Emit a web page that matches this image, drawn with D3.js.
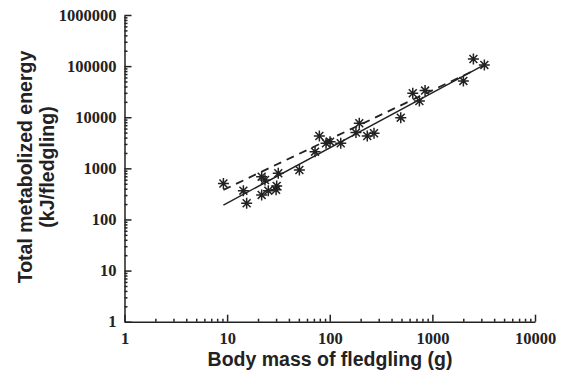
<!DOCTYPE html>
<html>
<head>
<meta charset="utf-8">
<script src="https://cdn.jsdelivr.net/npm/d3@7"></script>
<style>
  body { margin: 0; background: #fff; }
  .tick text { font-family: "Liberation Serif", "Times New Roman", serif; font-weight: bold; font-size: 16.5px; fill: #222; }
  .axisTitle { font-family: "Liberation Sans", Arial, sans-serif; font-weight: bold; font-size: 19.5px; fill: #222; }
</style>
</head>
<body>
<div id="chart"></div>
<script>
// body mass of fledgling (g)
const massValues = [9.2, 14.4, 15.5, 21.7, 23.4, 31.5, 21.7, 25.2, 30.4, 30.0, 50.6, 71.9, 79.2, 92,
                    100.7, 128, 180, 194, 232, 270, 492, 644, 747, 849, 2005, 2510, 3210];
// total metabolized energy (kJ/fledgling)
const energyValues = [506, 366, 208, 688, 593, 802, 302, 366, 453, 380, 930, 2122, 4300, 3100,
                      3330, 3100, 5000, 7640, 4300, 4860, 9820, 29500, 20800, 33200, 51300, 138000, 105700];

// fitted lines: log10(E) = a + b * log10(M), drawn over the mass range
const fitNames = ["solid", "dashed"];
const fitIntercepts = [1.24, 1.656];
const fitSlopes = [1.08, 0.957];
const fitMassRange = [[9.2, 3200], [9.2, 2650]];

const xTickValues = [1, 10, 100, 1000, 10000];
const yTickValues = [1, 10, 100, 1000, 10000, 100000, 1000000];

const WIDTH = 572;
const HEIGHT = 385;
const PLOT = { left: 124.5, right: 535, top: 15, bottom: 321.7 };

const svg = d3.select("#chart").append("svg")
              .attr("width", WIDTH)
              .attr("height", HEIGHT);

const x = d3.scaleLog()
            .domain([1, 10000])
            .range([PLOT.left, PLOT.right]);

const y = d3.scaleLog()
            .domain([1, 1000000])
            .range([PLOT.bottom, PLOT.top]);

// minor ticks 2..9 in each decade
function minorTicks(domain)
{
    let out = [];
    for (let d = domain[0]; d < domain[1]; d *= 10) {
        for (let k = 2; k <= 9; k++) out.push(d * k);
    }
    return out;
}

svg.append("g")
   .attr("transform", `translate(0, ${PLOT.bottom})`)
   .call(d3.axisBottom(x).tickValues(minorTicks(x.domain())).tickSizeInner(-3).tickSizeOuter(0).tickFormat(""))
   .call(g => g.select(".domain").remove());

svg.append("g")
   .attr("transform", `translate(${PLOT.left}, 0)`)
   .call(d3.axisLeft(y).tickValues(minorTicks(y.domain())).tickSizeInner(-3).tickSizeOuter(0).tickFormat(""))
   .call(g => g.select(".domain").remove());

const xAxis = svg.append("g")
                 .attr("transform", `translate(0, ${PLOT.bottom})`)
                 .call(d3.axisBottom(x).tickValues(xTickValues).tickSizeInner(-7).tickSizeOuter(0)
                         .tickPadding(11).tickFormat(d3.format("d")));

const yAxis = svg.append("g")
                 .attr("transform", `translate(${PLOT.left}, 0)`)
                 .call(d3.axisLeft(y).tickValues(yTickValues).tickSizeInner(-7).tickSizeOuter(0)
                         .tickPadding(8).tickFormat(d3.format("d")));

svg.selectAll(".domain, .tick line")
   .attr("stroke", "#222")
   .attr("stroke-width", 1.5);

svg.selectAll(".tick text").attr("font-family", null).attr("font-size", null);

// fitted lines
const line = d3.line()
               .x(d => x(d[0]))
               .y(d => y(d[1]));

fitNames.forEach((name, i) => {
    const pts = fitMassRange[i].map(m => [m, Math.pow(10, fitIntercepts[i] + fitSlopes[i] * Math.log10(m))]);
    svg.append("path")
       .datum(pts)
       .attr("class", "fit " + name)
       .attr("fill", "none")
       .attr("stroke", "#222")
       .attr("stroke-width", name === "dashed" ? 1.8 : 1.4)
       .attr("stroke-dasharray", name === "dashed" ? "8,6" : null)
       .attr("d", line);
});

// asterisk markers
const R = 5.5;
const asterisk = `M${-R},0L${R},0M0,${-R}L0,${R}` +
                 `M${-R * 0.72},${-R * 0.72}L${R * 0.72},${R * 0.72}` +
                 `M${-R * 0.72},${R * 0.72}L${R * 0.72},${-R * 0.72}`;

svg.append("g")
   .selectAll("path")
   .data(massValues)
   .enter()
   .append("path")
   .attr("transform", (d, i) => `translate(${x(d)}, ${y(energyValues[i])})`)
   .attr("d", asterisk)
   .attr("fill", "none")
   .attr("stroke", "#222")
   .attr("stroke-width", 1.5);

// axis titles
svg.append("text")
   .attr("class", "axisTitle")
   .attr("x", 330)
   .attr("y", 366)
   .attr("text-anchor", "middle")
   .text("Body mass of fledgling (g)");

svg.append("text")
   .attr("class", "axisTitle")
   .attr("transform", "translate(32, 167) rotate(-90)")
   .attr("text-anchor", "middle")
   .text("Total metabolized energy");

svg.append("text")
   .attr("class", "axisTitle")
   .attr("transform", "translate(54, 167) rotate(-90)")
   .attr("text-anchor", "middle")
   .text("(kJ/fledgling)");
</script>
</body>
</html>
